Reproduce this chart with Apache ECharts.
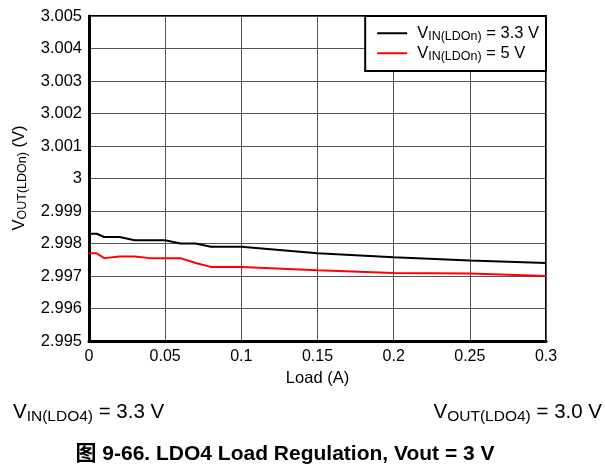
<!DOCTYPE html>
<html><head><meta charset="utf-8">
<script src="https://cdn.jsdelivr.net/npm/echarts@6/dist/echarts.min.js"></script>
<style>html,body{margin:0;padding:0;background:#fff}#c{width:605px;height:470px}</style>
</head><body><div id="c"></div>
<script>
const loadA = [0, 0.005, 0.01, 0.02, 0.03, 0.04, 0.05, 0.06, 0.07, 0.08, 0.1, 0.15, 0.2, 0.25, 0.3];
const vout33 = [2.9983, 2.9983, 2.9982, 2.9982, 2.9981, 2.9981, 2.9981, 2.998, 2.998, 2.9979, 2.9979, 2.9977, 2.99758, 2.99748, 2.9974];
const vout5 = [2.9977, 2.9977, 2.99755, 2.9976, 2.9976, 2.99755, 2.99755, 2.99755, 2.9974, 2.99728, 2.99728, 2.99718, 2.99709, 2.99708, 2.997];
const seriesNames = ['VIN(LDOn) = 3.3 V', 'VIN(LDOn) = 5 V'];
const legendLabels = {'VIN(LDOn) = 3.3 V': 'V{s|IN(LDOn)} = 3.3 V', 'VIN(LDOn) = 5 V': 'V{s|IN(LDOn)} = 5 V'};

const FONT = '"Liberation Sans", Arial, "Noto Sans CJK SC", sans-serif';
const fmt = v => String(parseFloat(Number(v).toFixed(4)));
const pair = (xs, ys) => xs.map((x, i) => [x, ys[i]]);
const legendRich = {
  s: {fontSize: 12.5, fontFamily: FONT, color: '#000', padding: [7, 0, 0, 0]}
};
const yNameRich = {
  s: {fontSize: 12.5, fontFamily: FONT, fill: '#000', padding: [7, 0, 0, 0]}
};
const bottomRich = {s: {fontSize: 15.5, fontFamily: FONT, fill: '#000', padding: [9, 0, 0, 0]}};

const chart = echarts.init(document.getElementById('c'), null, {renderer: 'canvas'});
chart.setOption({
  animation: false,
  backgroundColor: '#fff',
  grid: {left: 89, top: 16, width: 457, height: 325, show: true, borderColor: '#000', borderWidth: 2},
  xAxis: {
    type: 'value', min: 0, max: 0.3, interval: 0.05,
    name: 'Load (A)', nameLocation: 'middle', nameGap: 29,
    nameTextStyle: {fontFamily: FONT, fontSize: 16.5, color: '#000'},
    axisLine: {show: true, lineStyle: {color: '#000', width: 3}},
    axisTick: {show: false},
    axisLabel: {formatter: fmt, fontFamily: FONT, fontSize: 16, color: '#000', margin: 8},
    splitLine: {show: true, lineStyle: {color: '#555', width: 1}}
  },
  yAxis: {
    type: 'value', min: 2.995, max: 3.005, interval: 0.001,
    axisLine: {show: true, lineStyle: {color: '#000', width: 3}},
    axisTick: {show: false},
    axisLabel: {formatter: fmt, fontFamily: FONT, fontSize: 16.5, color: '#000', margin: 7},
    splitLine: {show: true, lineStyle: {color: '#555', width: 1}}
  },
  legend: {
    right: 59, top: 16, orient: 'vertical',
    data: seriesNames,
    backgroundColor: '#fff', borderColor: '#000', borderWidth: 2,
    padding: [9, 7, 8, 12], itemGap: 2,
    icon: 'rect', itemWidth: 30, itemHeight: 2,
    formatter: n => legendLabels[n],
    textStyle: {fontFamily: FONT, fontSize: 16.5, color: '#000', padding: [0, 0, 0, 5], rich: legendRich}
  },
  series: [
    {name: seriesNames[0], type: 'line', data: pair(loadA, vout33), symbol: 'none',
     lineStyle: {color: '#000', width: 2}, itemStyle: {color: '#000'}},
    {name: seriesNames[1], type: 'line', data: pair(loadA, vout5), symbol: 'none',
     lineStyle: {color: '#ff0000', width: 2}, itemStyle: {color: '#ff0000'}}
  ],
  graphic: [
    {type: 'text', x: 19, y: 178, rotation: Math.PI / 2, style: {
      text: 'V{s|OUT(LDOn)} (V)', align: 'center', verticalAlign: 'middle',
      fontFamily: FONT, fontSize: 16.5, fill: '#000', rich: yNameRich}},
    {type: 'text', x: 13, y: 412, style: {
      text: 'V{s|IN(LDO4)} = 3.3 V', align: 'left', verticalAlign: 'middle',
      fontFamily: FONT, fontSize: 20.5, fill: '#000', rich: bottomRich}},
    {type: 'text', x: 602, y: 412, style: {
      text: 'V{s|OUT(LDO4)} = 3.0 V', align: 'right', verticalAlign: 'middle',
      fontFamily: FONT, fontSize: 20.5, fill: '#000', rich: bottomRich}},
    {type: 'text', x: 285, y: 454, style: {
      text: '图 9-66. LDO4 Load Regulation, Vout = 3 V', align: 'center', verticalAlign: 'middle',
      fontFamily: FONT, fontSize: 21, fontWeight: 'bold', fill: '#000'}}
  ]
});
</script></body></html>
